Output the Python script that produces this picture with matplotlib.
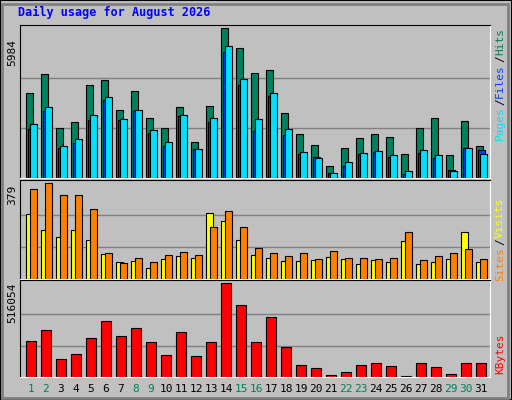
import matplotlib
matplotlib.use("Agg")
import matplotlib.pyplot as plt
from matplotlib.patches import Rectangle

days = list(range(1, 32))
hits = [3385,4157,2004,2247,3710,3913,2735,3466,2410,2004,2857,1435,2897,5984,5213,4197,4319,2613,1760,1313,460,1191,1598,1760,1638,948,2004,2410,907,2288,1273]
files = [2166,2857,1273,1557,2532,3222,2369,2735,1923,1435,2532,1151,2410,5294,3953,2369,3385,1963,1029,785,217,623,988,1070,907,298,1110,907,298,1191,948]
pages = [1963,2694,1191,1395,2329,3100,2329,2694,1801,1273,2491,1151,2247,5050,3710,1882,3263,1720,948,826,217,460,948,1029,826,176,988,785,338,1191,1110]
sites = [255,194,165,194,152,99,66,70,45,78,91,82,260,227,152,95,82,70,70,74,87,78,58,74,66,148,58,66,78,185,66]
visits = [354,379,330,330,276,103,62,82,66,95,107,95,206,268,206,124,103,91,103,78,111,82,82,78,82,185,74,91,103,119,78]
kbytes = [198000,255000,96000,125000,215000,306000,227000,266000,193000,119000,244000,113000,193000,516054,397000,193000,329000,164000,68000,51000,11000,28000,68000,74000,62000,5000,74000,57000,17000,79000,74000]
weekend = [1,2,8,9,15,16,22,23,29,30]

W, H = 512, 400
fig = plt.figure(figsize=(W/100, H/100), dpi=100, facecolor="#C0C0C0")
fig.patches.append(Rectangle((0, 0), 1, 1, transform=fig.transFigure, fill=False, edgecolor="#000000", lw=1.5))
fig.patches.append(Rectangle((2/W, 2/H), (W-6)/W, (H-6)/H, transform=fig.transFigure, fill=False, edgecolor="#808080", lw=2))

mono = "DejaVu Sans Mono"
def ax_at(y0, y1):
    ax = fig.add_axes([20/W, 1-y1/H, 470/W, (y1-y0)/H])
    ax.set_facecolor("#C0C0C0")
    ax.set_xlim(0.27, 31.6)
    ax.set_xticks([]); ax.set_yticks([])
    for s in ax.spines.values():
        s.set_color("black")
    ax.spines["right"].set_color("white"); ax.spines["bottom"].set_color("white")
    return ax

def grid(ax, m):
    for f in (1/3, 2/3):
        ax.axhline(m*f, color="#808080", lw=1, zorder=0)

ek = dict(edgecolor="black", linewidth=0.8, align="edge")
ax1 = ax_at(25, 178)
m = max(hits); ax1.set_ylim(0, m*1.022); grid(ax1, m)
ax1.bar([d-0.33 for d in days], hits, width=0.48, color="#00805c", **ek)
ax1.bar([d-0.2 for d in days], pages, width=0.45, color="#0040ff", **ek)
ax1.bar([d-0.07 for d in days], files, width=0.48, color="#00e0ff", **ek)
fig.text(12/W, 1-52/H, str(m), rotation=90, family=mono, fontsize=8, ha="center", va="center")

ax2 = ax_at(180, 279)
m = max(visits); ax2.set_ylim(0, m*1.03); grid(ax2, m)
ax2.bar([d-0.33 for d in days], sites, width=0.45, color="#ffff00", **ek)
ax2.bar([d-0.07 for d in days], visits, width=0.5, color="#ff8000", **ek)
fig.text(12/W, 1-195/H, str(m), rotation=90, family=mono, fontsize=8, ha="center", va="center")

ax3 = ax_at(280, 377)
m = max(kbytes); ax3.set_ylim(0, m*1.03); grid(ax3, m)
ax3.bar([d-0.33 for d in days], kbytes, width=0.66, color="#ff0000", **ek)
fig.text(12/W, 1-303/H, str(m), rotation=90, family=mono, fontsize=8, ha="center", va="center")

for d in days:
    x = (20 + (d-0.27)/(31.6-0.27)*470)/W
    fig.text(x, 1-389/H, str(d), family=mono, fontsize=8, ha="center", va="center",
             color="#00805c" if d in weekend else "black")

fig.text(18/W, 1-12/H, "Daily usage for August 2026", family=mono, fontsize=8.5,
         fontweight="bold", color="#0000ff", ha="left", va="center")

def rlabel(parts, ytop):
    y = ytop
    for txt, col in parts:
        fig.text(500/W, 1-y/H, txt, rotation=90, family=mono, fontsize=8, color=col,
                 ha="center", va="top")
        y += len(txt)*6.4 + 2
rlabel([("Hits", "#00805c"), ("/", "black"), ("Files", "#0040ff"), ("/", "black"), ("Pages", "#00e0ff")], 28)
rlabel([("Visits", "#ffff00"), ("/", "black"), ("Sites", "#ff8000")], 198)
rlabel([("KBytes", "#ff0000")], 333)

fig.savefig("out.png", dpi=100, facecolor=fig.get_facecolor())
